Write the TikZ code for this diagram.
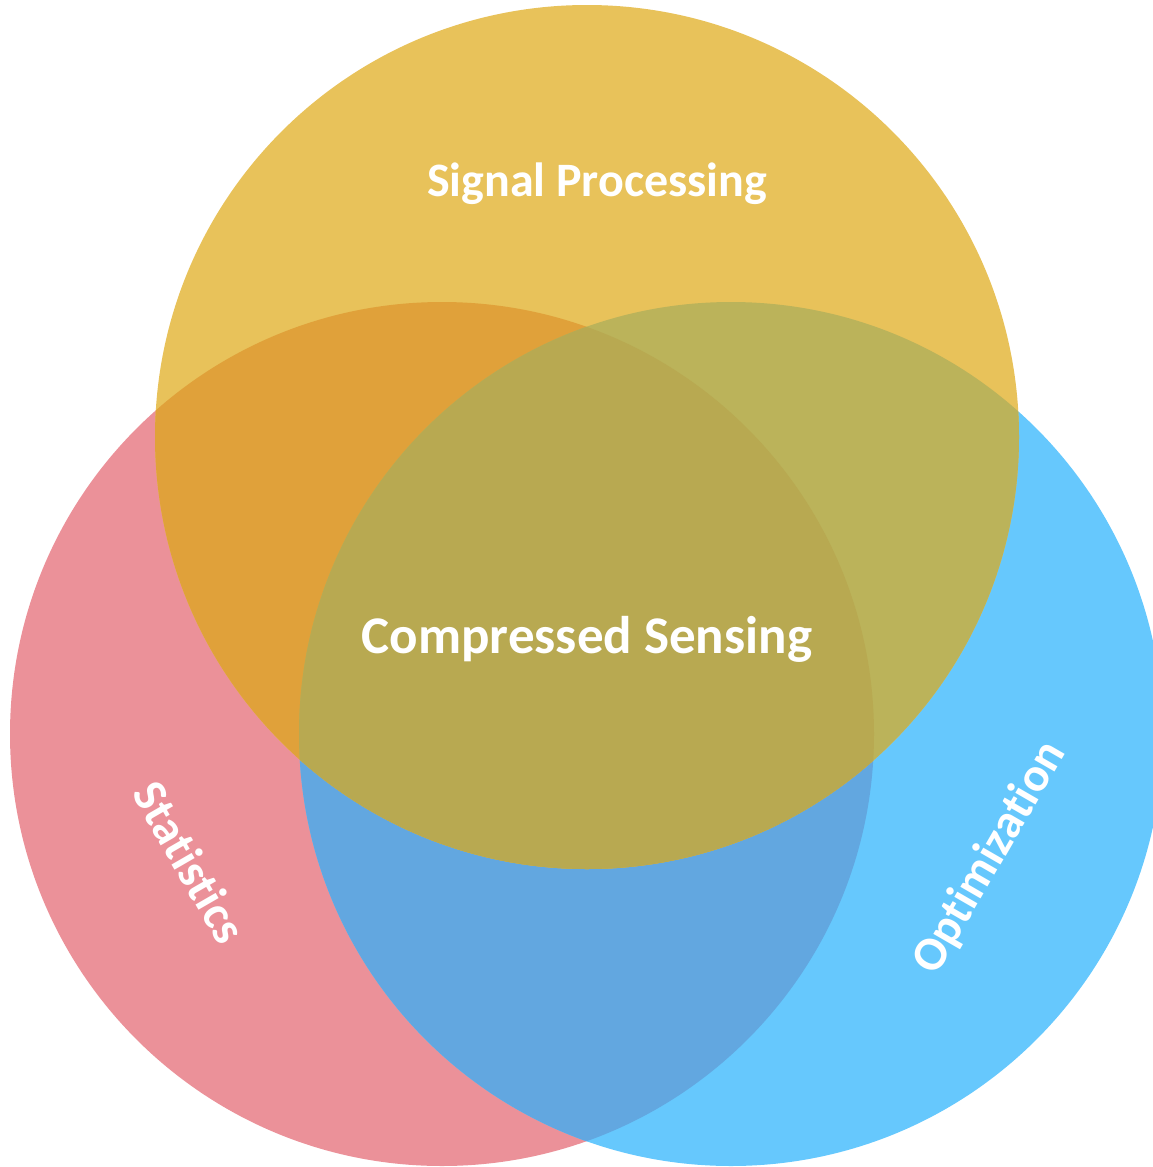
\documentclass[tikz,border=0pt]{standalone}
\usepackage{fontspec}
\setmainfont[Ligatures={NoCommon,NoRare,NoContextual}]{Carlito}
\definecolor{cRed}{HTML}{EB9199}
\definecolor{cBlue}{HTML}{66C8FD}
\definecolor{cYellow}{HTML}{E8C25A}
\definecolor{cRedBlue}{HTML}{62A7E0}
\definecolor{cRedYellow}{HTML}{E0A13A}
\definecolor{cBlueYellow}{HTML}{BBB35A}
\definecolor{cAll}{HTML}{B8A951}
\begin{document}
\begin{tikzpicture}[x=1pt,y=-1pt,
  lbl/.style={text=white,font=\bfseries,inner sep=0pt}]
\useasboundingbox (0,0) rectangle (1153,1167);
% circle centres
\coordinate (R) at (442,734);
\coordinate (B) at (731,734);
\coordinate (Y) at (587,437);
% single sets
\fill[cRed] (R) circle[radius=432pt];
\fill[cBlue] (B) circle[radius=432pt];
\begin{scope}
  \clip (R) circle[radius=432pt];
  \fill[cRedBlue] (B) circle[radius=432pt];
\end{scope}
\fill[cYellow] (Y) circle[radius=432pt];
% overlaps with the top set
\begin{scope}
  \clip (Y) circle[radius=432pt];
  \fill[cRedYellow] (R) circle[radius=432pt];
  \fill[cBlueYellow] (B) circle[radius=432pt];
  \clip (R) circle[radius=432pt];
  \fill[cAll] (B) circle[radius=432pt];
\end{scope}
% labels
\node[lbl,anchor=base,font=\bfseries\fontsize{48}{54}\selectfont] (sp) at (597,196) {Signal Processing};
\node[lbl,anchor=base,font=\bfseries\fontsize{53}{60}\selectfont] (cs) at (587,653) {Compressed Sensing};
\node[lbl,rotate=-60,font=\bfseries\fontsize{48}{54}\selectfont] (st) at (190,862) {Statistics};
\node[lbl,rotate=60,font=\bfseries\fontsize{48}{54}\selectfont] (op) at (990,858) {Optimization};
\end{tikzpicture}
\end{document}
